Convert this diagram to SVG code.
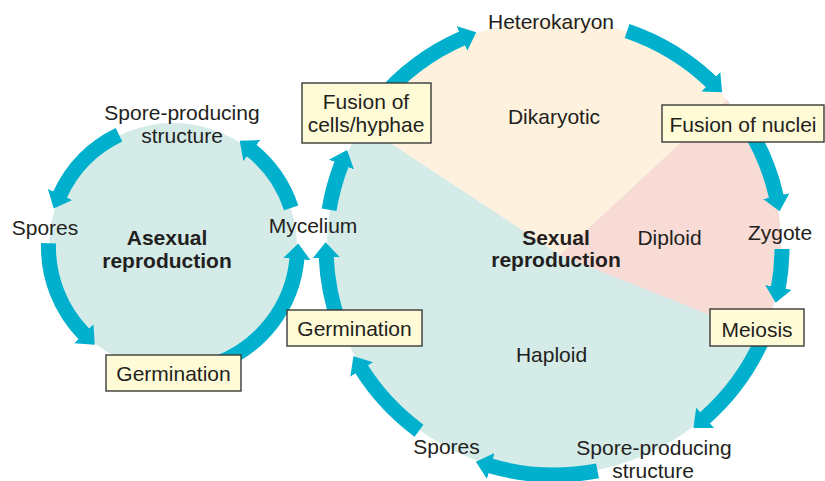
<svg xmlns="http://www.w3.org/2000/svg" width="825" height="481" viewBox="0 0 825 481">
<style>
text{font-family:"Liberation Sans",Arial,sans-serif;font-size:21px;fill:#231f20;text-anchor:middle}
.b{font-weight:bold}
.box{fill:#fffbd6;stroke:#3a3a3a;stroke-width:1.4}
.arc{fill:none;stroke:#00b0cc;stroke-width:15;stroke-linecap:butt;marker-end:url(#ah)}
</style>
<defs>
<marker id="ah" markerUnits="userSpaceOnUse" viewBox="0 0 16 28" markerWidth="16" markerHeight="28" refX="0.8" refY="14" orient="auto">
<path d="M0,0.5 L15.5,14 L0,27.5 Z" fill="#00b0cc"/>
</marker>
<clipPath id="sc"><circle cx="554" cy="247" r="227"/></clipPath>
</defs>
<g id="regions">
<circle cx="173" cy="247" r="124" fill="#d4ebe8"/>
<circle cx="554" cy="247" r="227" fill="#d4ebe8"/>
<g clip-path="url(#sc)">
<polygon points="560,255 -274.8,-295.5 1292.5,-425.7" fill="#fef2df"/>
<polygon points="560,255 1292.5,-425.7 1488.5,626.4" fill="#f9dbd5"/>
</g>
</g>
<g id="connectors">
<path class="arc" d="M379.3,100.4 A228,228 0 0 1 462.7,38.1"/>
<path class="arc" d="M627.1,31.0 A228,228 0 0 1 711.5,82.2"/>
<path class="arc" d="M745.2,122.8 A228,228 0 0 1 776.4,196.9"/>
<path class="arc" d="M782.0,249.0 A228,228 0 0 1 778.3,288.2"/>
<path class="arc" d="M762.3,339.7 A228,228 0 0 1 704.5,418.3"/>
<path class="arc" d="M597.5,470.8 A228,228 0 0 1 490.0,465.8"/>
<path class="arc" d="M419.0,430.7 A228,228 0 0 1 361.3,368.8"/>
<path class="arc" d="M339.7,325.0 A228,228 0 0 1 326.2,256.9"/>
<path class="arc" d="M329.1,209.8 A228,228 0 0 1 341.7,163.8"/>
<path class="arc" d="M119.0,134.8 A124.5,124.5 0 0 0 59.8,195.2"/>
<path class="arc" d="M48.5,243.3 A124.5,124.5 0 0 0 84.4,334.4"/>
<path class="arc" d="M215.6,364.0 A124.5,124.5 0 0 0 297.0,258.1"/>
<path class="arc" d="M291.2,207.9 A124.5,124.5 0 0 0 251.2,150.1"/>
</g>
<g id="asexual-label"><text class="b" x="167" y="245">Asexual</text><text class="b" x="167" y="268">reproduction</text></g>
<g id="sexual-label"><text class="b" x="556" y="245">Sexual</text><text class="b" x="556" y="267">reproduction</text></g>
<g id="dikaryotic"><text x="554" y="124">Dikaryotic</text></g>
<g id="diploid"><text x="669.5" y="245">Diploid</text></g>
<g id="haploid"><text x="551.5" y="362">Haploid</text></g>
<g id="a-spore-producing"><text x="182" y="120">Spore-producing</text><text x="182" y="143">structure</text></g>
<g id="a-spores"><text x="45" y="235">Spores</text></g>
<g id="a-germination"><rect class="box" x="106" y="355" width="135" height="36"/><text x="173.5" y="381">Germination</text></g>
<g id="mycelium"><text x="313" y="233">Mycelium</text></g>
<g id="fusion-cells"><rect class="box" x="302" y="83" width="129" height="60"/><text x="366" y="109">Fusion of</text><text x="366" y="132">cells/hyphae</text></g>
<g id="heterokaryon"><text x="551" y="29">Heterokaryon</text></g>
<g id="fusion-nuclei"><rect class="box" x="662" y="105" width="162" height="37"/><text x="743" y="132">Fusion of nuclei</text></g>
<g id="zygote"><text x="780" y="240">Zygote</text></g>
<g id="meiosis"><rect class="box" x="710" y="309" width="94" height="37"/><text x="757" y="337">Meiosis</text></g>
<g id="s-spore-producing"><text x="654" y="455">Spore-producing</text><text x="653" y="478">structure</text></g>
<g id="s-spores"><text x="446.5" y="454">Spores</text></g>
<g id="s-germination"><rect class="box" x="287" y="310" width="135" height="36"/><text x="354.5" y="336">Germination</text></g>
</svg>
